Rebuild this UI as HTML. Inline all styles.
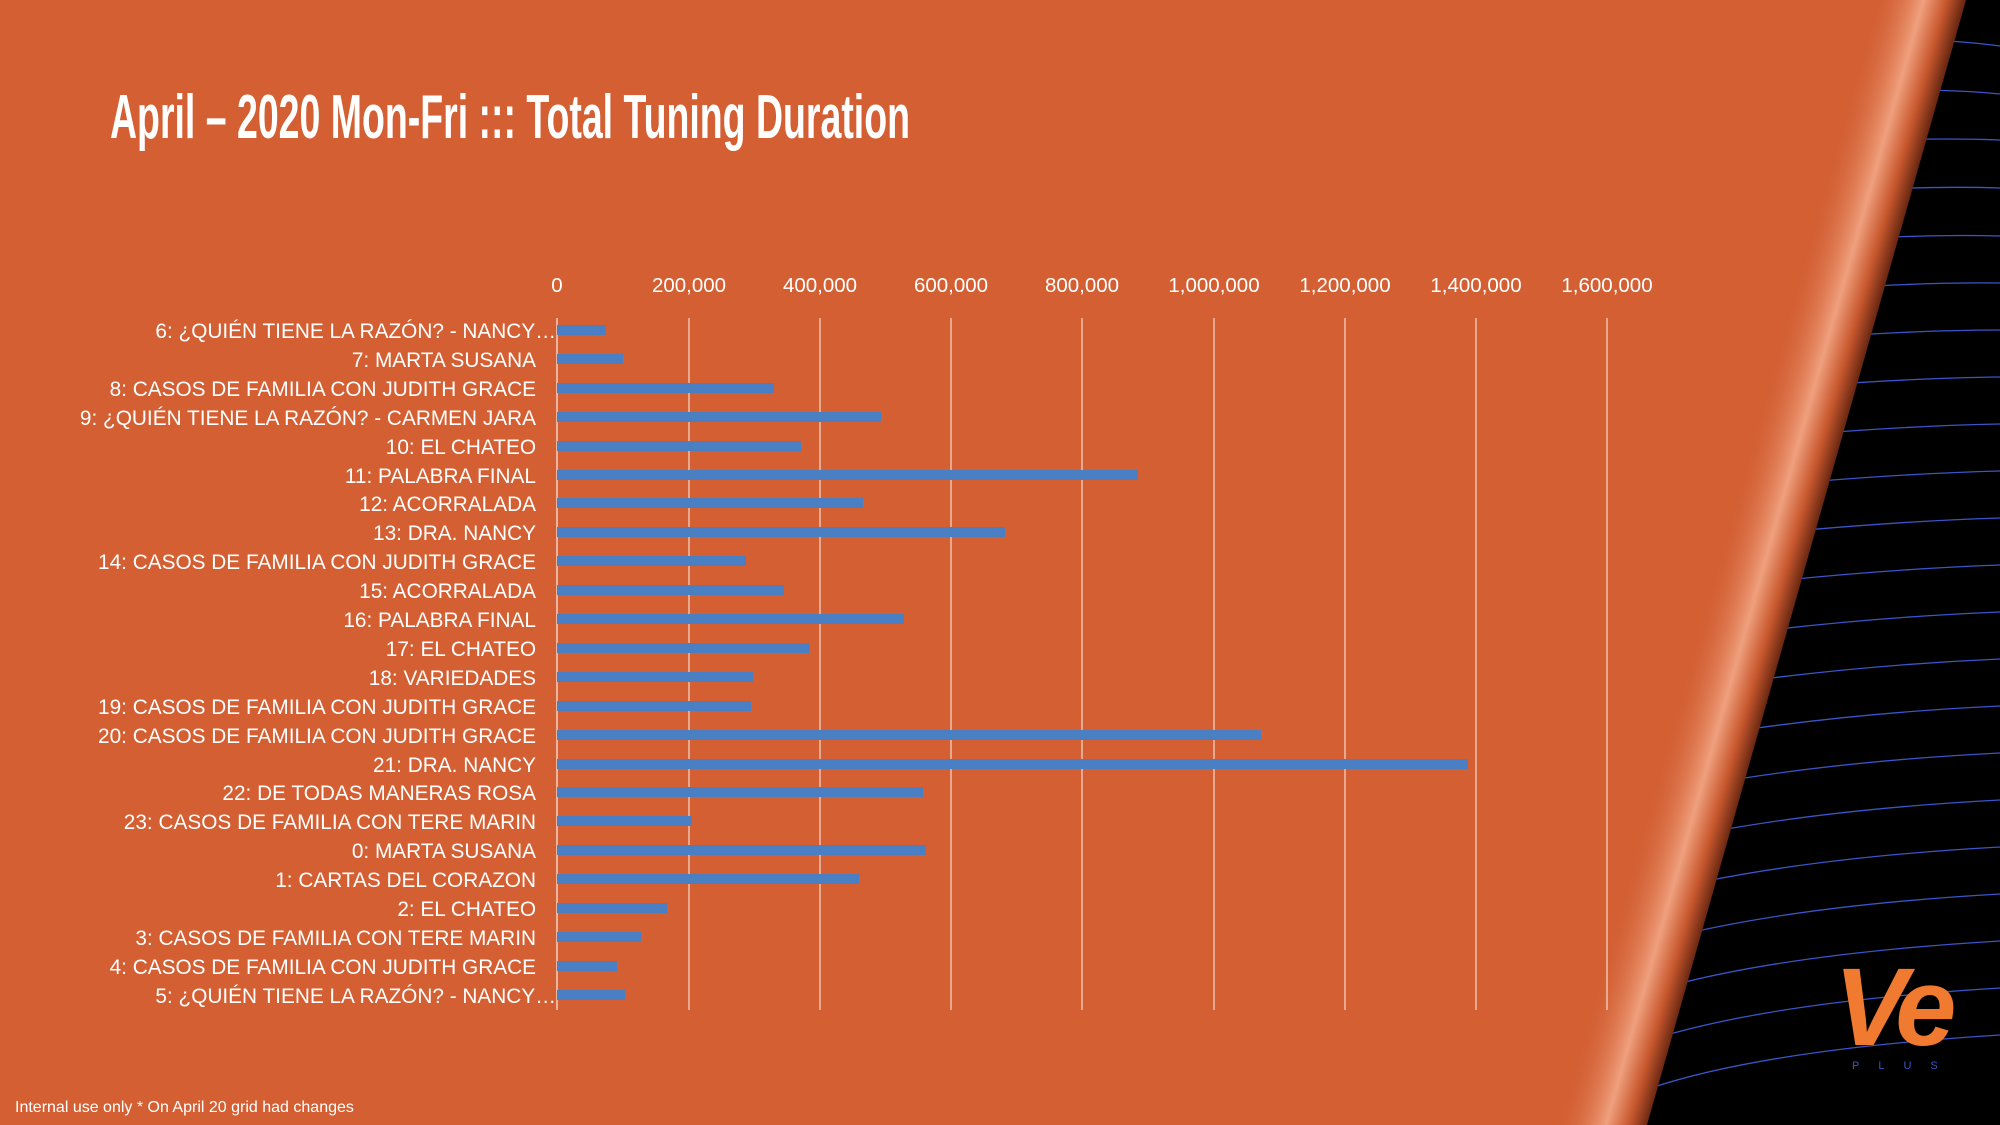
<!DOCTYPE html>
<html><head><meta charset="utf-8"><style>
html,body{margin:0;padding:0;background:#D35F33;}
svg{display:block}
</style></head><body>
<svg width="2000" height="1125" viewBox="0 0 2000 1125" xmlns="http://www.w3.org/2000/svg">
<defs>
<linearGradient id="edge" gradientUnits="userSpaceOnUse" x1="1715" y1="560" x2="1800" y2="584">
<stop offset="0" stop-color="#D35F33" stop-opacity="0"/>
<stop offset="0.55" stop-color="#EFA07E"/>
<stop offset="0.8" stop-color="#C8582E"/>
<stop offset="1" stop-color="#6a2812"/>
</linearGradient>
<clipPath id="blk"><polygon points="1964,0 2000,0 2000,1125 1645,1125"/></clipPath>
</defs>
<rect width="2000" height="1125" fill="#D35F33"/>
<polygon points="1964,0 2000,0 2000,1125 1645,1125" fill="#000"/>
<g stroke="#3a55c8" stroke-width="1.3" fill="none" clip-path="url(#blk)">
<path d="M1930,40 Q1970,42 2000,46"/>
<path d="M1910,90 Q1960,90 2000,94"/>
<path d="M1885,140 Q1950,138 2000,140"/>
<path d="M1860,190 Q1940,186 2000,188"/>
<path d="M1835,240 Q1930,234 2000,236"/>
<path d="M1810,290 Q1920,282 2000,283"/>
<path d="M1785,340 Q1910,330 2000,330"/>
<path d="M1760,390 Q1900,378 2000,377"/>
<path d="M1740,440 Q1890,426 2000,424"/>
<path d="M1720,490 Q1880,474 2000,471"/>
<path d="M1705,540 Q1870,522 2000,518"/>
<path d="M1695,590 Q1860,570 2000,565"/>
<path d="M1690,640 Q1850,618 2000,612"/>
<path d="M1685,690 Q1840,666 2000,659"/>
<path d="M1680,740 Q1830,714 2000,706"/>
<path d="M1675,790 Q1820,762 2000,753"/>
<path d="M1670,840 Q1810,810 2000,800"/>
<path d="M1665,890 Q1800,858 2000,847"/>
<path d="M1660,940 Q1790,906 2000,894"/>
<path d="M1655,990 Q1780,954 2000,941"/>
<path d="M1650,1040 Q1770,1002 2000,988"/>
<path d="M1645,1090 Q1760,1050 2000,1035"/>
</g>
<polygon points="1880,0 1966,0 1647,1125 1561,1125" fill="url(#edge)"/>
<line x1="557" y1="318" x2="557" y2="1010" stroke="#f3d0c0" stroke-width="1.5"/>
<g stroke="#f3d0c0" stroke-width="1.3">
<line x1="689" y1="318" x2="689" y2="1010"/>
<line x1="820" y1="318" x2="820" y2="1010"/>
<line x1="951" y1="318" x2="951" y2="1010"/>
<line x1="1082" y1="318" x2="1082" y2="1010"/>
<line x1="1214" y1="318" x2="1214" y2="1010"/>
<line x1="1345" y1="318" x2="1345" y2="1010"/>
<line x1="1476" y1="318" x2="1476" y2="1010"/>
<line x1="1607" y1="318" x2="1607" y2="1010"/>
</g>
<text x="110" y="138" fill="#fff" font-family="Liberation Sans Narrow, Liberation Sans, sans-serif" font-weight="bold" font-size="62" textLength="800" lengthAdjust="spacingAndGlyphs">April – 2020 Mon-Fri ::: Total Tuning Duration</text>
<g fill="#fff" font-family="Liberation Sans, sans-serif" font-size="20.5" text-anchor="middle">
<text x="557" y="292">0</text>
<text x="689" y="292">200,000</text>
<text x="820" y="292">400,000</text>
<text x="951" y="292">600,000</text>
<text x="1082" y="292">800,000</text>
<text x="1214" y="292">1,000,000</text>
<text x="1345" y="292">1,200,000</text>
<text x="1476" y="292">1,400,000</text>
<text x="1607" y="292">1,600,000</text>
</g>
<g fill="#4a7fc4">
<rect x="557" y="325" width="49" height="10"/>
<rect x="557" y="354" width="66" height="10"/>
<rect x="557" y="383" width="217" height="10"/>
<rect x="557" y="412" width="324" height="10"/>
<rect x="557" y="441" width="244" height="10"/>
<rect x="557" y="470" width="581" height="10"/>
<rect x="557" y="498" width="306" height="10"/>
<rect x="557" y="527" width="448" height="10"/>
<rect x="557" y="556" width="189" height="10"/>
<rect x="557" y="585" width="227" height="10"/>
<rect x="557" y="614" width="347" height="10"/>
<rect x="557" y="643" width="252" height="10"/>
<rect x="557" y="672" width="196" height="10"/>
<rect x="557" y="701" width="194" height="10"/>
<rect x="557" y="730" width="704" height="10"/>
<rect x="557" y="759" width="911" height="10"/>
<rect x="557" y="787" width="366" height="10"/>
<rect x="557" y="816" width="135" height="10"/>
<rect x="557" y="845" width="369" height="10"/>
<rect x="557" y="874" width="302" height="10"/>
<rect x="557" y="903" width="110" height="10"/>
<rect x="557" y="932" width="84" height="10"/>
<rect x="557" y="961" width="60" height="10"/>
<rect x="557" y="990" width="68" height="10"/>
</g>
<g fill="#fff" font-family="Liberation Sans, sans-serif" font-size="20.8" text-anchor="end">
<text x="556" y="338">6: ¿QUIÉN TIENE LA RAZÓN? - NANCY…</text>
<text x="536" y="367">7: MARTA SUSANA</text>
<text x="536" y="396">8: CASOS DE FAMILIA CON JUDITH GRACE</text>
<text x="536" y="425">9: ¿QUIÉN TIENE LA RAZÓN? - CARMEN JARA</text>
<text x="536" y="454">10: EL CHATEO</text>
<text x="536" y="483">11: PALABRA FINAL</text>
<text x="536" y="511">12: ACORRALADA</text>
<text x="536" y="540">13: DRA. NANCY</text>
<text x="536" y="569">14: CASOS DE FAMILIA CON JUDITH GRACE</text>
<text x="536" y="598">15: ACORRALADA</text>
<text x="536" y="627">16: PALABRA FINAL</text>
<text x="536" y="656">17: EL CHATEO</text>
<text x="536" y="685">18: VARIEDADES</text>
<text x="536" y="714">19: CASOS DE FAMILIA CON JUDITH GRACE</text>
<text x="536" y="743">20: CASOS DE FAMILIA CON JUDITH GRACE</text>
<text x="536" y="772">21: DRA. NANCY</text>
<text x="536" y="800">22: DE TODAS MANERAS ROSA</text>
<text x="536" y="829">23: CASOS DE FAMILIA CON TERE MARIN</text>
<text x="536" y="858">0: MARTA SUSANA</text>
<text x="536" y="887">1: CARTAS DEL CORAZON</text>
<text x="536" y="916">2: EL CHATEO</text>
<text x="536" y="945">3: CASOS DE FAMILIA CON TERE MARIN</text>
<text x="536" y="974">4: CASOS DE FAMILIA CON JUDITH GRACE</text>
<text x="556" y="1003">5: ¿QUIÉN TIENE LA RAZÓN? - NANCY…</text>
</g>
<text x="15" y="1112" fill="#fff" font-family="Liberation Sans, sans-serif" font-size="16">Internal use only * On April 20 grid had changes</text>
<text x="1834" y="1045" fill="#F07A30" font-family="Liberation Sans, sans-serif" font-weight="bold" font-style="italic" font-size="110" letter-spacing="-8">Ve</text>
<text x="1852" y="1069" fill="#3a55c8" font-family="Liberation Sans, sans-serif" font-size="11" letter-spacing="19">PLUS</text>
</svg>
</body></html>
